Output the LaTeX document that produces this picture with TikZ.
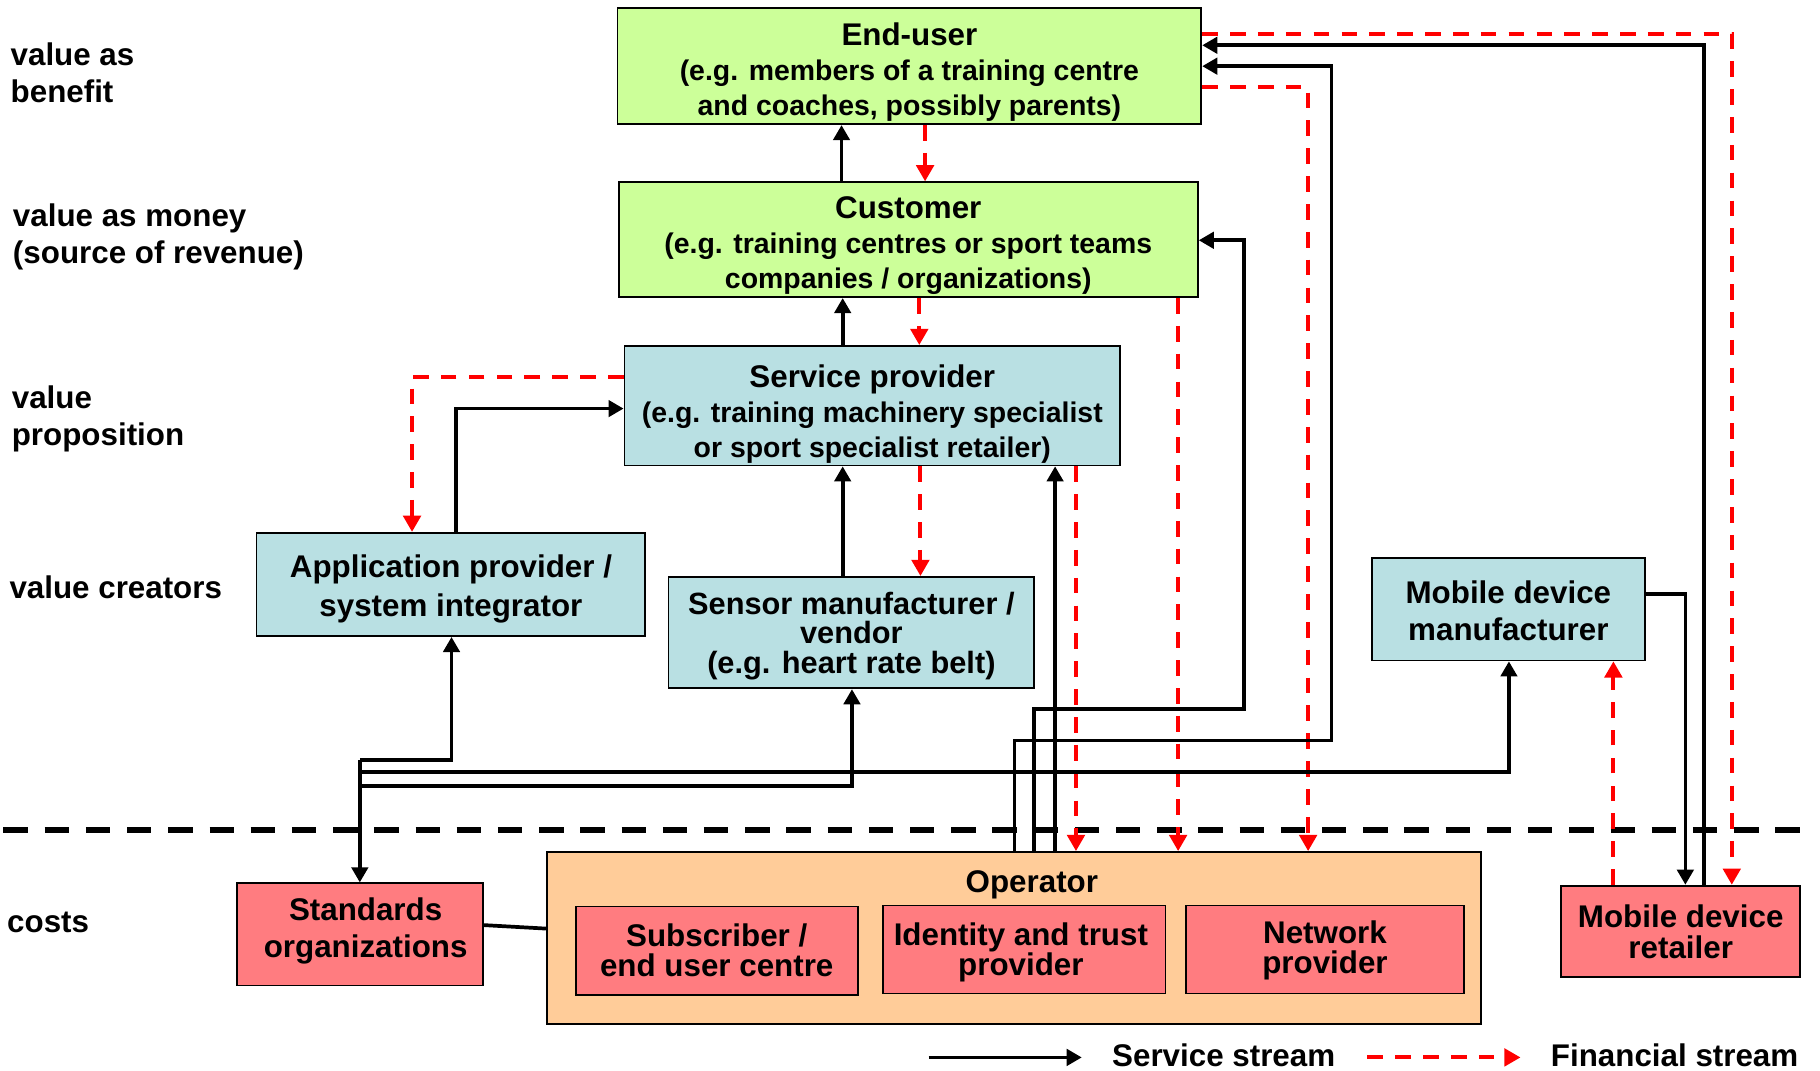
\documentclass[tikz,border=0pt]{standalone}
\usepackage{fontspec}
\setmainfont{Liberation Sans}
\usetikzlibrary{arrows.meta,calc}
\definecolor{gfill}{HTML}{CCFF99}
\definecolor{bfill}{HTML}{B9E0E3}
\definecolor{rfill}{HTML}{FF7C80}
\definecolor{ofill}{HTML}{FFCC99}
\definecolor{fred}{HTML}{FF0000}
\newcommand{\fs}[2]{\fontsize{#1}{#2}\selectfont}
\newcommand{\ttl}[1]{{\fs{27}{30}#1}}
\begin{document}
\begin{tikzpicture}[x=1pt,y=-1pt,
  font=\bfseries\fs{27}{32},
  box/.style={draw=black, line width=1.5pt, inner sep=0pt},
  txt/.style={align=center, inner sep=0pt},
  svc/.style={line width=3.2pt, -{Triangle[length=13pt,width=14pt]}},
  fin/.style={fred, line width=3.4pt, dash pattern=on 13.5pt off 10.5pt, -{Triangle[length=14pt,width=15pt]}},
  plainline/.style={line width=3.2pt},
  lbl/.style={anchor=west, align=left, inner sep=0pt, font=\bfseries\fs{27}{32}}
]
\useasboundingbox (0,0) rectangle (1568,922);

% left labels
\node[lbl] (l1) at (9,63) {value as\\benefit};
\node[lbl] (l2) at (11,204) {value as money\\(source of revenue)};
\node[lbl] (l3) at (10,361) {value\\proposition};
\node[lbl] (l4) at (8,506) {value creators};
\node[lbl] (l5) at (6,795) {costs};

% separator
\draw[line width=5.8pt, dash pattern=on 21pt off 14.5pt] (3,715) -- (1552,715);

% boxes
\node[box, fill=gfill, minimum width=503pt, minimum height=100pt] (eu) at (783.5,57) {};
\node[txt, font=\bfseries\fs{24.5}{30}] (eut) at ($(eu.center)+(0,5)$)
  {\ttl{End-user}\\(e.g. members of a training centre\\and coaches, possibly parents)};
\node[box, fill=gfill, minimum width=499pt, minimum height=99pt] (cu) at (782.5,206.5) {};
\node[txt, font=\bfseries\fs{24.5}{30}] (cut) at ($(cu.center)+(0,5)$)
  {\ttl{Customer}\\(e.g. training centres or sport teams\\companies / organizations)};
\node[box, fill=bfill, minimum width=427pt, minimum height=103pt] (sp) at (751.5,349.5) {};
\node[txt, font=\bfseries\fs{24.5}{30}] (spt) at ($(sp.center)+(0,7)$)
  {\ttl{Service provider}\\(e.g. training machinery specialist\\or sport specialist retailer)};
\node[box, fill=bfill, minimum width=335pt, minimum height=89pt] (ap) at (388.5,503.5) {};
\node[txt, font=\bfseries\fs{27}{33}] (apt) at ($(ap.center)+(0,4)$)
  {Application provider /\\system integrator};
\node[box, fill=bfill, minimum width=315pt, minimum height=96pt] (se) at (733.5,545) {};
\node[txt, font=\bfseries\fs{26.5}{25.5}] (set) at ($(se.center)+(0,3)$)
  {Sensor manufacturer /\\vendor\\(e.g. heart rate belt)};
\node[box, fill=bfill, minimum width=235pt, minimum height=88pt] (mm) at (1299.5,525) {};
\node[txt, font=\bfseries\fs{27}{32}] (mmt) at ($(mm.center)+(0,1)$)
  {Mobile device\\manufacturer};
\node[box, fill=rfill, minimum width=212pt, minimum height=88pt] (so) at (310,805) {};
\node[txt, font=\bfseries\fs{27}{32}] (sot) at ($(so.center)+(5,-3)$)
  {Standards\\organizations};
\node[box, fill=ofill, minimum width=805pt, minimum height=148pt] (op) at (873.5,808) {};
\node[txt] (opl) at (889,762) {Operator};
\node[box, fill=rfill, minimum width=243pt, minimum height=76pt] (sub) at (617.5,819) {};
\node[txt, font=\bfseries\fs{27}{26}] (subt) at (sub.center)
  {Subscriber /\\end user centre};
\node[box, fill=rfill, minimum width=243pt, minimum height=76pt] (idt) at (882.5,818) {};
\node[txt, font=\bfseries\fs{27}{26}] (idtt) at ($(idt.center)+(-3,2.5)$)
  {Identity and trust\\provider};
\node[box, fill=rfill, minimum width=239pt, minimum height=76pt] (net) at (1141.5,818) {};
\node[txt, font=\bfseries\fs{27}{26}] (nett) at ($(net.center)+(0,1)$)
  {Network\\provider};
\node[box, fill=rfill, minimum width=206pt, minimum height=79pt] (mr) at (1448,802.5) {};
\node[txt, font=\bfseries\fs{27}{27}] (mrt) at (mr.center)
  {Mobile device\\retailer};

% vertical flows between top boxes
\draw[svc] (725,0 |- cu.north) -- (725,0 |- eu.south);
\draw[fin] (797,0 |- eu.south) -- (797,0 |- cu.north);
\draw[svc] (726,0 |- sp.north) -- (726,0 |- cu.south);
\draw[fin] (792,0 |- cu.south) -- (792,0 |- sp.north);
\draw[fin] (0,325 -| sp.west) -| (355,0 |- ap.north);
\draw[svc] (393,0 |- ap.north) |- (0,352 -| sp.west);
\draw[svc] (726,0 |- se.north) -- (726,0 |- sp.south);
\draw[fin] (793,0 |- sp.south) -- (793,0 |- se.north);

% operator links
\draw[svc] (909,0 |- op.north) -- (909,0 |- sp.south);
\draw[fin] (927,0 |- sp.south) -- (927,0 |- op.north);
\draw[fin] (1015,0 |- cu.south) -- (1015,0 |- op.north);
\draw[fin] (0,75 -| eu.east) -| (1127,0 |- op.north);
\draw[svc] (891,0 |- op.north) |- (1072,611) |- (0,207 -| cu.east);
\draw[svc] (874,0 |- op.north) |- (1147,638) |- (0,57 -| eu.east);

% mobile devices
\draw[fin] (0,29 -| eu.east) -| (1492,0 |- mr.north);
\draw[svc] (1468,0 |- mr.north) |- (0,39 -| eu.east);
\draw[svc] (0,512 -| mm.east) -| (1452,0 |- mr.north);
\draw[fin] (1390,0 |- mr.north) -- (1390,0 |- mm.south);

% standards bus
\coordinate (bus) at (310,655);
\draw[svc] (bus) -| (389,0 |- ap.south);
\draw[svc] (310,665) -| (1300,0 |- mm.south);
\draw[svc] (310,677) -| (734,0 |- se.south);
\draw[svc] (bus) -- (310,0 |- so.north);
\draw[plainline] (so.east |- 0,797) -- (op.west |- 0,800);

% legend
\coordinate (ls1) at (800,911);
\coordinate (ls2) at (932,911);
\draw[svc] (ls1) -- (ls2);
\node[anchor=west, inner sep=0pt] (lt1) at (958,909) {Service stream};
\coordinate (lf1) at (1178,911);
\coordinate (lf2) at (1310,911);
\draw[fin] (lf1) -- (lf2);
\node[anchor=west, inner sep=0pt] (lt2) at (1336,909) {Financial stream};
\end{tikzpicture}
\end{document}
